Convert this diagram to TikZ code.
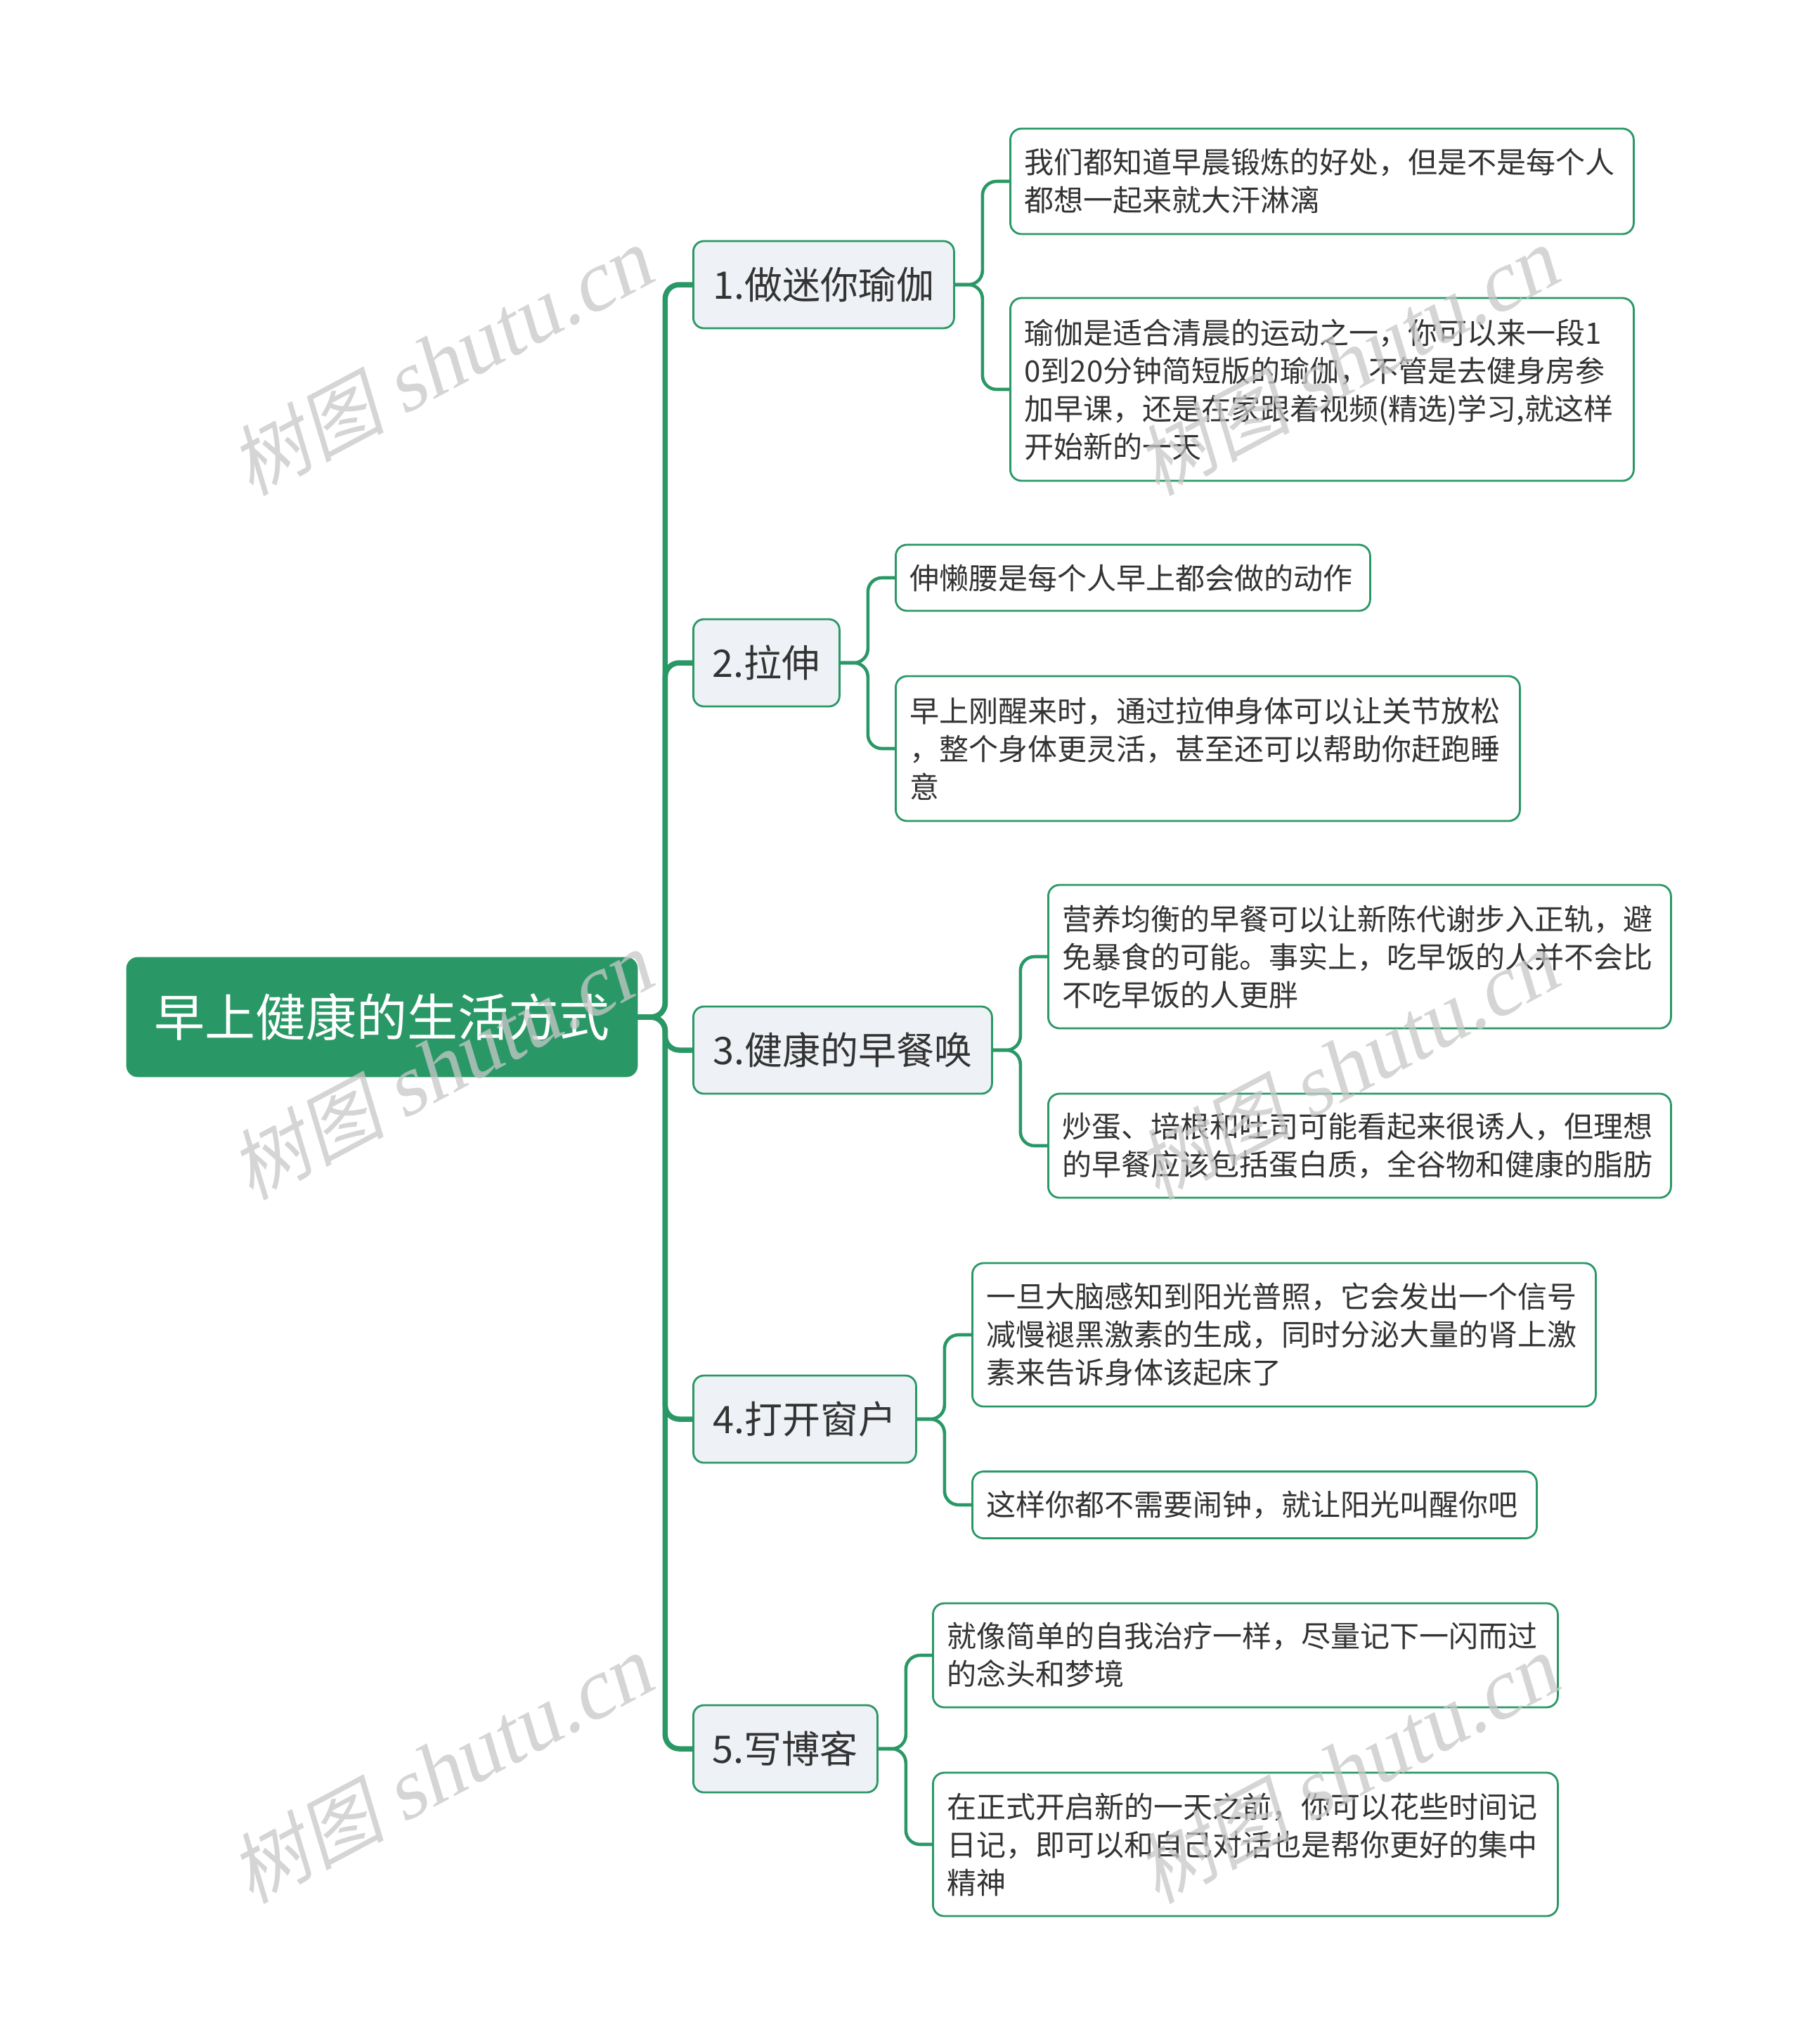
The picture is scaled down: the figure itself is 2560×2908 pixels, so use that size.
\documentclass[tikz,border=0pt]{standalone}
\usepackage{fontspec}
\setmainfont{Noto Sans CJK SC}
\newfontfamily\wmlat{Liberation Serif}
\definecolor{mgreen}{RGB}{42,152,102}
\definecolor{lone}{RGB}{238,241,245}
\definecolor{txt}{RGB}{51,51,51}
\definecolor{wm}{RGB}{200,200,200}
\begin{document}
\begin{tikzpicture}[x=0.5pt,y=-0.5pt,
  rootbox/.style={rectangle, rounded corners=8pt, fill=mgreen, draw=mgreen, text=white, font=\fontsize{36}{44}\selectfont, minimum width=363.5pt, minimum height=85pt, inner sep=0pt},
  topicbox/.style={rectangle, rounded corners=7.5pt, fill=lone, draw=mgreen, line width=1.4pt, text=txt, font=\fontsize{27}{33}\selectfont, minimum height=62pt, inner sep=0pt, anchor=west},
  leafbox/.style={rectangle, rounded corners=8pt, fill=white, draw=mgreen, line width=1.4pt, text=txt, font=\fontsize{21}{27}\selectfont, align=left, inner xsep=10pt, inner ysep=0pt, anchor=west},
  trunk/.style={draw=mgreen, line width=3.75pt, rounded corners=10pt},
  twig/.style={draw=mgreen, line width=2.3pt, rounded corners=10pt},
  wmark/.style={text=wm, opacity=0.75, font=\fontsize{55}{55}\selectfont, rotate=28, xslant=0.2, inner sep=0pt}
]
\fill[white] (0,0) rectangle (2560,2908);
\useasboundingbox (0,0) rectangle (2560,2908);

\node[rootbox] (root) at (543.5,1447) {早上健康的生活方式};

\node[topicbox, minimum width=185.5pt] (t1) at (985,405) {1.做迷你瑜伽};
\node[topicbox, minimum width=104pt] (t2) at (985,943) {2.拉伸};
\node[topicbox, minimum width=212.5pt] (t3) at (985,1494) {3.健康的早餐唤};
\node[topicbox, minimum width=158.5pt] (t4) at (985,2019) {4.打开窗户};
\node[topicbox, minimum width=131pt] (t5) at (985,2488) {5.写博客};

\node[leafbox, text width=423.5pt, minimum height=75pt] (l1a) at (1436,258) {我们都知道早晨锻炼的好处，但是不是每个人\\都想一起来就大汗淋漓};
\node[leafbox, text width=423.5pt, minimum height=130pt] (l1b) at (1436,554) {瑜伽是适合清晨的运动之一，你可以来一段1\\0到20分钟简短版的瑜伽，不管是去健身房参\\加早课，还是在家跟着视频(精选)学习,就这样\\开始新的一天};
\node[leafbox, text width=317.5pt, minimum height=47pt] (l2a) at (1273,822) {伸懒腰是每个人早上都会做的动作};
\node[leafbox, text width=424pt, minimum height=103pt] (l2b) at (1273,1065) {早上刚醒来时，通过拉伸身体可以让关节放松\\，整个身体更灵活，甚至还可以帮助你赶跑睡\\意};
\node[leafbox, text width=423pt, minimum height=102pt] (l3a) at (1490,1361) {营养均衡的早餐可以让新陈代谢步入正轨，避\\免暴食的可能。事实上，吃早饭的人并不会比\\不吃早饭的人更胖};
\node[leafbox, text width=423pt, minimum height=74pt] (l3b) at (1490,1630) {炒蛋、培根和吐司可能看起来很诱人，但理想\\的早餐应该包括蛋白质，全谷物和健康的脂肪};
\node[leafbox, text width=423.5pt, minimum height=102pt] (l4a) at (1382,1899) {一旦大脑感知到阳光普照，它会发出一个信号\\减慢褪黑激素的生成，同时分泌大量的肾上激\\素来告诉身体该起床了};
\node[leafbox, text width=381.5pt, minimum height=47.5pt] (l4b) at (1382,2141) {这样你都不需要闹钟，就让阳光叫醒你吧};
\node[leafbox, text width=424.5pt, minimum height=74pt] (l5a) at (1326,2355) {就像简单的自我治疗一样，尽量记下一闪而过\\的念头和梦境};
\node[leafbox, text width=424.5pt, minimum height=102pt] (l5b) at (1326,2624) {在正式开启新的一天之前，你可以花些时间记\\日记，即可以和自己对话也是帮你更好的集中\\精神};

\foreach \t in {t1,t2,t3,t4,t5}
  \draw[trunk] (root.east) -- ++(39,0) |- (\t.west);

\draw[twig] (t1.east) -- ++(39,0) |- (l1a.west);
\draw[twig] (t1.east) -- ++(39,0) |- (l1b.west);
\draw[twig] (t2.east) -- ++(39,0) |- (l2a.west);
\draw[twig] (t2.east) -- ++(39,0) |- (l2b.west);
\draw[twig] (t3.east) -- ++(39,0) |- (l3a.west);
\draw[twig] (t3.east) -- ++(39,0) |- (l3b.west);
\draw[twig] (t4.east) -- ++(39,0) |- (l4a.west);
\draw[twig] (t4.east) -- ++(39,0) |- (l4b.west);
\draw[twig] (t5.east) -- ++(39,0) |- (l5a.west);
\draw[twig] (t5.east) -- ++(39,0) |- (l5b.west);

\node[wmark] (w1) at (634,512) {树图 {\wmlat\fontsize{61}{61}\selectfont shutu.cn}};
\node[wmark] (w2) at (634,1514) {树图 {\wmlat\fontsize{61}{61}\selectfont shutu.cn}};
\node[wmark] (w3) at (634,2515) {树图 {\wmlat\fontsize{61}{61}\selectfont shutu.cn}};
\node[wmark] (w4) at (1923,512) {树图 {\wmlat\fontsize{61}{61}\selectfont shutu.cn}};
\node[wmark] (w5) at (1923,1514) {树图 {\wmlat\fontsize{61}{61}\selectfont shutu.cn}};
\node[wmark] (w6) at (1923,2515) {树图 {\wmlat\fontsize{61}{61}\selectfont shutu.cn}};
\end{tikzpicture}
\end{document}
